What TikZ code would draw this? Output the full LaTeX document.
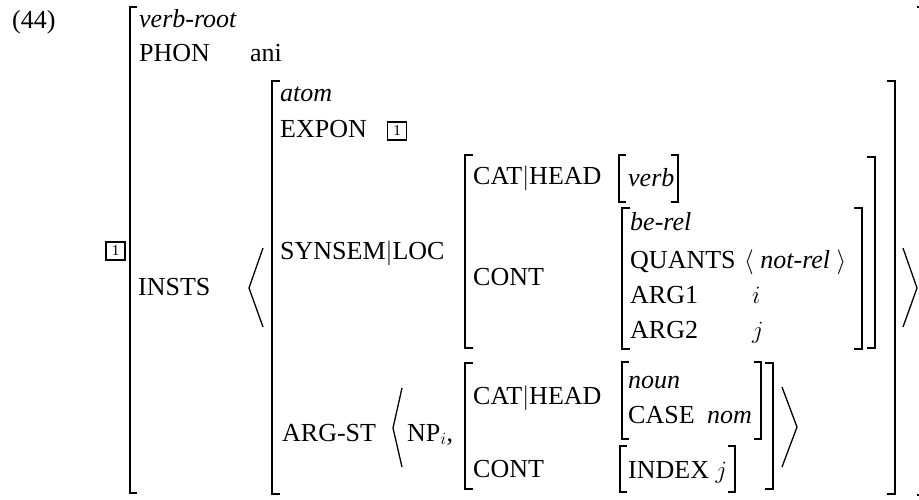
\documentclass[tikz,border=0pt]{standalone}
\usepackage{fontspec}
\setmainfont{Liberation Serif}
\begin{document}
\begin{tikzpicture}[x=1pt,y=-1pt,
  t/.style={anchor=base west,inner sep=0pt,font=\fontsize{26}{30}\selectfont},
  tagbox/.style={draw,line width=1.8pt,minimum width=19pt,minimum height=18pt,inner sep=0pt,font=\fontsize{15}{15}\selectfont},
  brk/.style={line width=1.3pt},
  ang/.style={line width=1.3pt}]
\useasboundingbox (0,0) rectangle (919,500);
% bracket macros
\newcommand\lbrk[4]{\draw[brk] (#1+#4,#2) -- (#1,#2) -- (#1,#3) -- (#1+#4,#3);}
\newcommand\rbrk[4]{\draw[brk] (#1-#4,#2) -- (#1,#2) -- (#1,#3) -- (#1-#4,#3);}
% texts
\node[t] (ex) at (12,29) {(44)};
\node[t] (vr) at (139,28) {\itshape verb-root};
\node[t] (phon) at (139,62) {PHON};
\node[t] (ani) at (250,62) {ani};
\node[tagbox] (tagA) at (115.5,251) {1};
\node[t] (insts) at (138,295) {INSTS};
\node[t] (atom) at (280,102) {\itshape atom};
\node[t] (expon) at (280,138) {EXPON};
\node[tagbox] (tagB) at (397,131) {1};
\node[t] (synsem) at (280,259) {SYNSEM$|$LOC};
\node[t] (cathead) at (473,185) {CAT$|$HEAD};
\node[t] (verb) at (628,186) {\itshape verb};
\node[t] (cont) at (473,285) {CONT};
\node[t] (berel) at (630,230) {\itshape be-rel};
\node[t] (quants) at (630,268) {QUANTS};
\node[t] (notrel) at (744,268) {$\langle$ \itshape not-rel $\rangle$};
\node[t] (arg1) at (630,303) {ARG1};
\node[t] (vi) at (752,303) {$i$};
\node[t] (arg2) at (630,338) {ARG2};
\node[t] (vj) at (752,338) {$j$};
\node[t] (argst) at (282,441) {ARG-ST};
\node[t] (np) at (407,441) {NP$_i$,};
\node[t] (cathead2) at (473,404) {CAT$|$HEAD};
\node[t] (noun) at (628,388) {\itshape noun};
\node[t] (case) at (628,423) {CASE};
\node[t] (nom) at (707,423) {\itshape nom};
\node[t] (cont2) at (473,477) {CONT};
\node[t] (index) at (628,478) {INDEX $j$};
% brackets
\lbrk{130}{7}{493}{7}
\rbrk{920}{7}{495}{3}
\lbrk{272}{81}{494}{8}
\rbrk{895}{81}{494}{8}
\lbrk{465}{155}{348}{8}
\rbrk{875}{157}{348}{8}
\lbrk{619}{155}{202}{7}
\rbrk{678}{155}{202}{7}
\lbrk{622}{208}{349}{8}
\rbrk{862}{208}{349}{8}
\lbrk{465}{363}{489}{8}
\rbrk{773}{363}{489}{8}
\lbrk{622}{362}{439}{7}
\rbrk{761}{362}{439}{7}
\lbrk{620}{446}{492}{7}
\rbrk{735}{446}{492}{7}
% angle brackets
\draw[ang] (263,248) -- (249,288) -- (263,327);
\draw[ang] (903,248) -- (917,288) -- (903,327);
\draw[ang] (402,388) -- (393,428) -- (402,467);
\draw[ang] (782,387) -- (797,427) -- (782,467);
\end{tikzpicture}
\end{document}
